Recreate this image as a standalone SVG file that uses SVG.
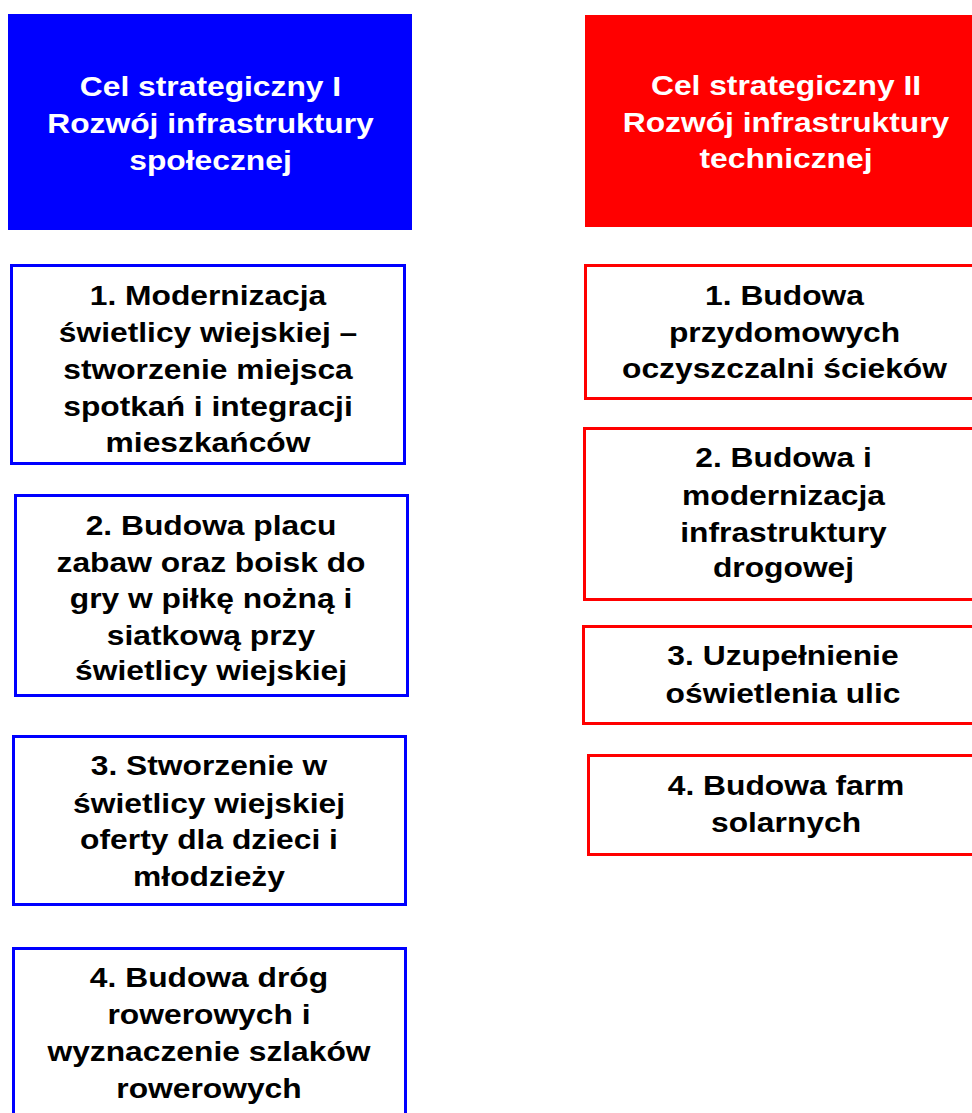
<svg xmlns="http://www.w3.org/2000/svg" width="972" height="1113" viewBox="0 0 972 1113">
<style>
text{font-family:"Liberation Sans",Arial,sans-serif;font-weight:bold;font-size:28px;text-anchor:middle}
.hd{fill:#fff}
.tx{fill:#000}
.bb{fill:#fff;stroke:#0000ff;stroke-width:3}
.rb{fill:#fff;stroke:#ff0000;stroke-width:3}
</style>
<rect width="972" height="1113" fill="#fff"/>
<g id="header1">
<rect x="8" y="14" width="404" height="216" fill="#0000ff"/>
<g transform="translate(210.5,0) scale(1.135,1)" class="hd">
<text x="0" y="96" class="hd">Cel strategiczny I</text>
<text x="0" y="133" class="hd">Rozwój infrastruktury</text>
<text x="0" y="170" class="hd">społecznej</text>
</g>
</g>
<g id="header2">
<rect x="585" y="15" width="402" height="212" fill="#ff0000"/>
<g transform="translate(786,0) scale(1.135,1)">
<text x="0" y="95" class="hd">Cel strategiczny II</text>
<text x="0" y="132" class="hd">Rozwój infrastruktury</text>
<text x="0" y="168" class="hd">technicznej</text>
</g>
</g>
<g id="left1">
<rect x="11.5" y="265.5" width="393" height="198" class="bb"/>
<g transform="translate(208,0) scale(1.135,1)">
<text x="0" y="305" class="tx">1. Modernizacja</text>
<text x="0" y="342" class="tx">świetlicy wiejskiej –</text>
<text x="0" y="379" class="tx">stworzenie miejsca</text>
<text x="0" y="416" class="tx">spotkań i integracji</text>
<text x="0" y="452" class="tx">mieszkańców</text>
</g>
</g>
<g id="left2">
<rect x="15.5" y="495.5" width="392" height="200" class="bb"/>
<g transform="translate(211,0) scale(1.135,1)">
<text x="0" y="535" class="tx">2. Budowa placu</text>
<text x="0" y="572" class="tx">zabaw oraz boisk do</text>
<text x="0" y="608" class="tx">gry w piłkę nożną i</text>
<text x="0" y="645" class="tx">siatkową przy</text>
<text x="0" y="680" class="tx">świetlicy wiejskiej</text>
</g>
</g>
<g id="left3">
<rect x="13.5" y="736.5" width="392" height="168" class="bb"/>
<g transform="translate(209,0) scale(1.135,1)">
<text x="0" y="775" class="tx">3. Stworzenie w</text>
<text x="0" y="813" class="tx">świetlicy wiejskiej</text>
<text x="0" y="849" class="tx">oferty dla dzieci i</text>
<text x="0" y="886" class="tx">młodzieży</text>
</g>
</g>
<g id="left4">
<rect x="13.5" y="948.5" width="392" height="180" class="bb"/>
<g transform="translate(209,0) scale(1.135,1)">
<text x="0" y="987" class="tx">4. Budowa dróg</text>
<text x="0" y="1024" class="tx">rowerowych i</text>
<text x="0" y="1061" class="tx">wyznaczenie szlaków</text>
<text x="0" y="1098" class="tx">rowerowych</text>
</g>
</g>
<g id="right1">
<rect x="585.5" y="265.5" width="402" height="133" class="rb"/>
<g transform="translate(784.5,0) scale(1.135,1)">
<text x="0" y="305" class="tx">1. Budowa</text>
<text x="0" y="342" class="tx">przydomowych</text>
<text x="0" y="378" class="tx">oczyszczalni ścieków</text>
</g>
</g>
<g id="right2">
<rect x="584.5" y="428.5" width="402" height="171" class="rb"/>
<g transform="translate(783.5,0) scale(1.135,1)">
<text x="0" y="467" class="tx">2. Budowa i</text>
<text x="0" y="505" class="tx">modernizacja</text>
<text x="0" y="542" class="tx">infrastruktury</text>
<text x="0" y="577" class="tx">drogowej</text>
</g>
</g>
<g id="right3">
<rect x="583.5" y="626.5" width="402" height="97" class="rb"/>
<g transform="translate(783,0) scale(1.135,1)">
<text x="0" y="665" class="tx">3. Uzupełnienie</text>
<text x="0" y="703" class="tx">oświetlenia ulic</text>
</g>
</g>
<g id="right4">
<rect x="588.5" y="755.5" width="402" height="99" class="rb"/>
<g transform="translate(786,0) scale(1.135,1)">
<text x="0" y="795" class="tx">4. Budowa farm</text>
<text x="0" y="832" class="tx">solarnych</text>
</g>
</g>
<g id="connectors"></g>
</svg>
